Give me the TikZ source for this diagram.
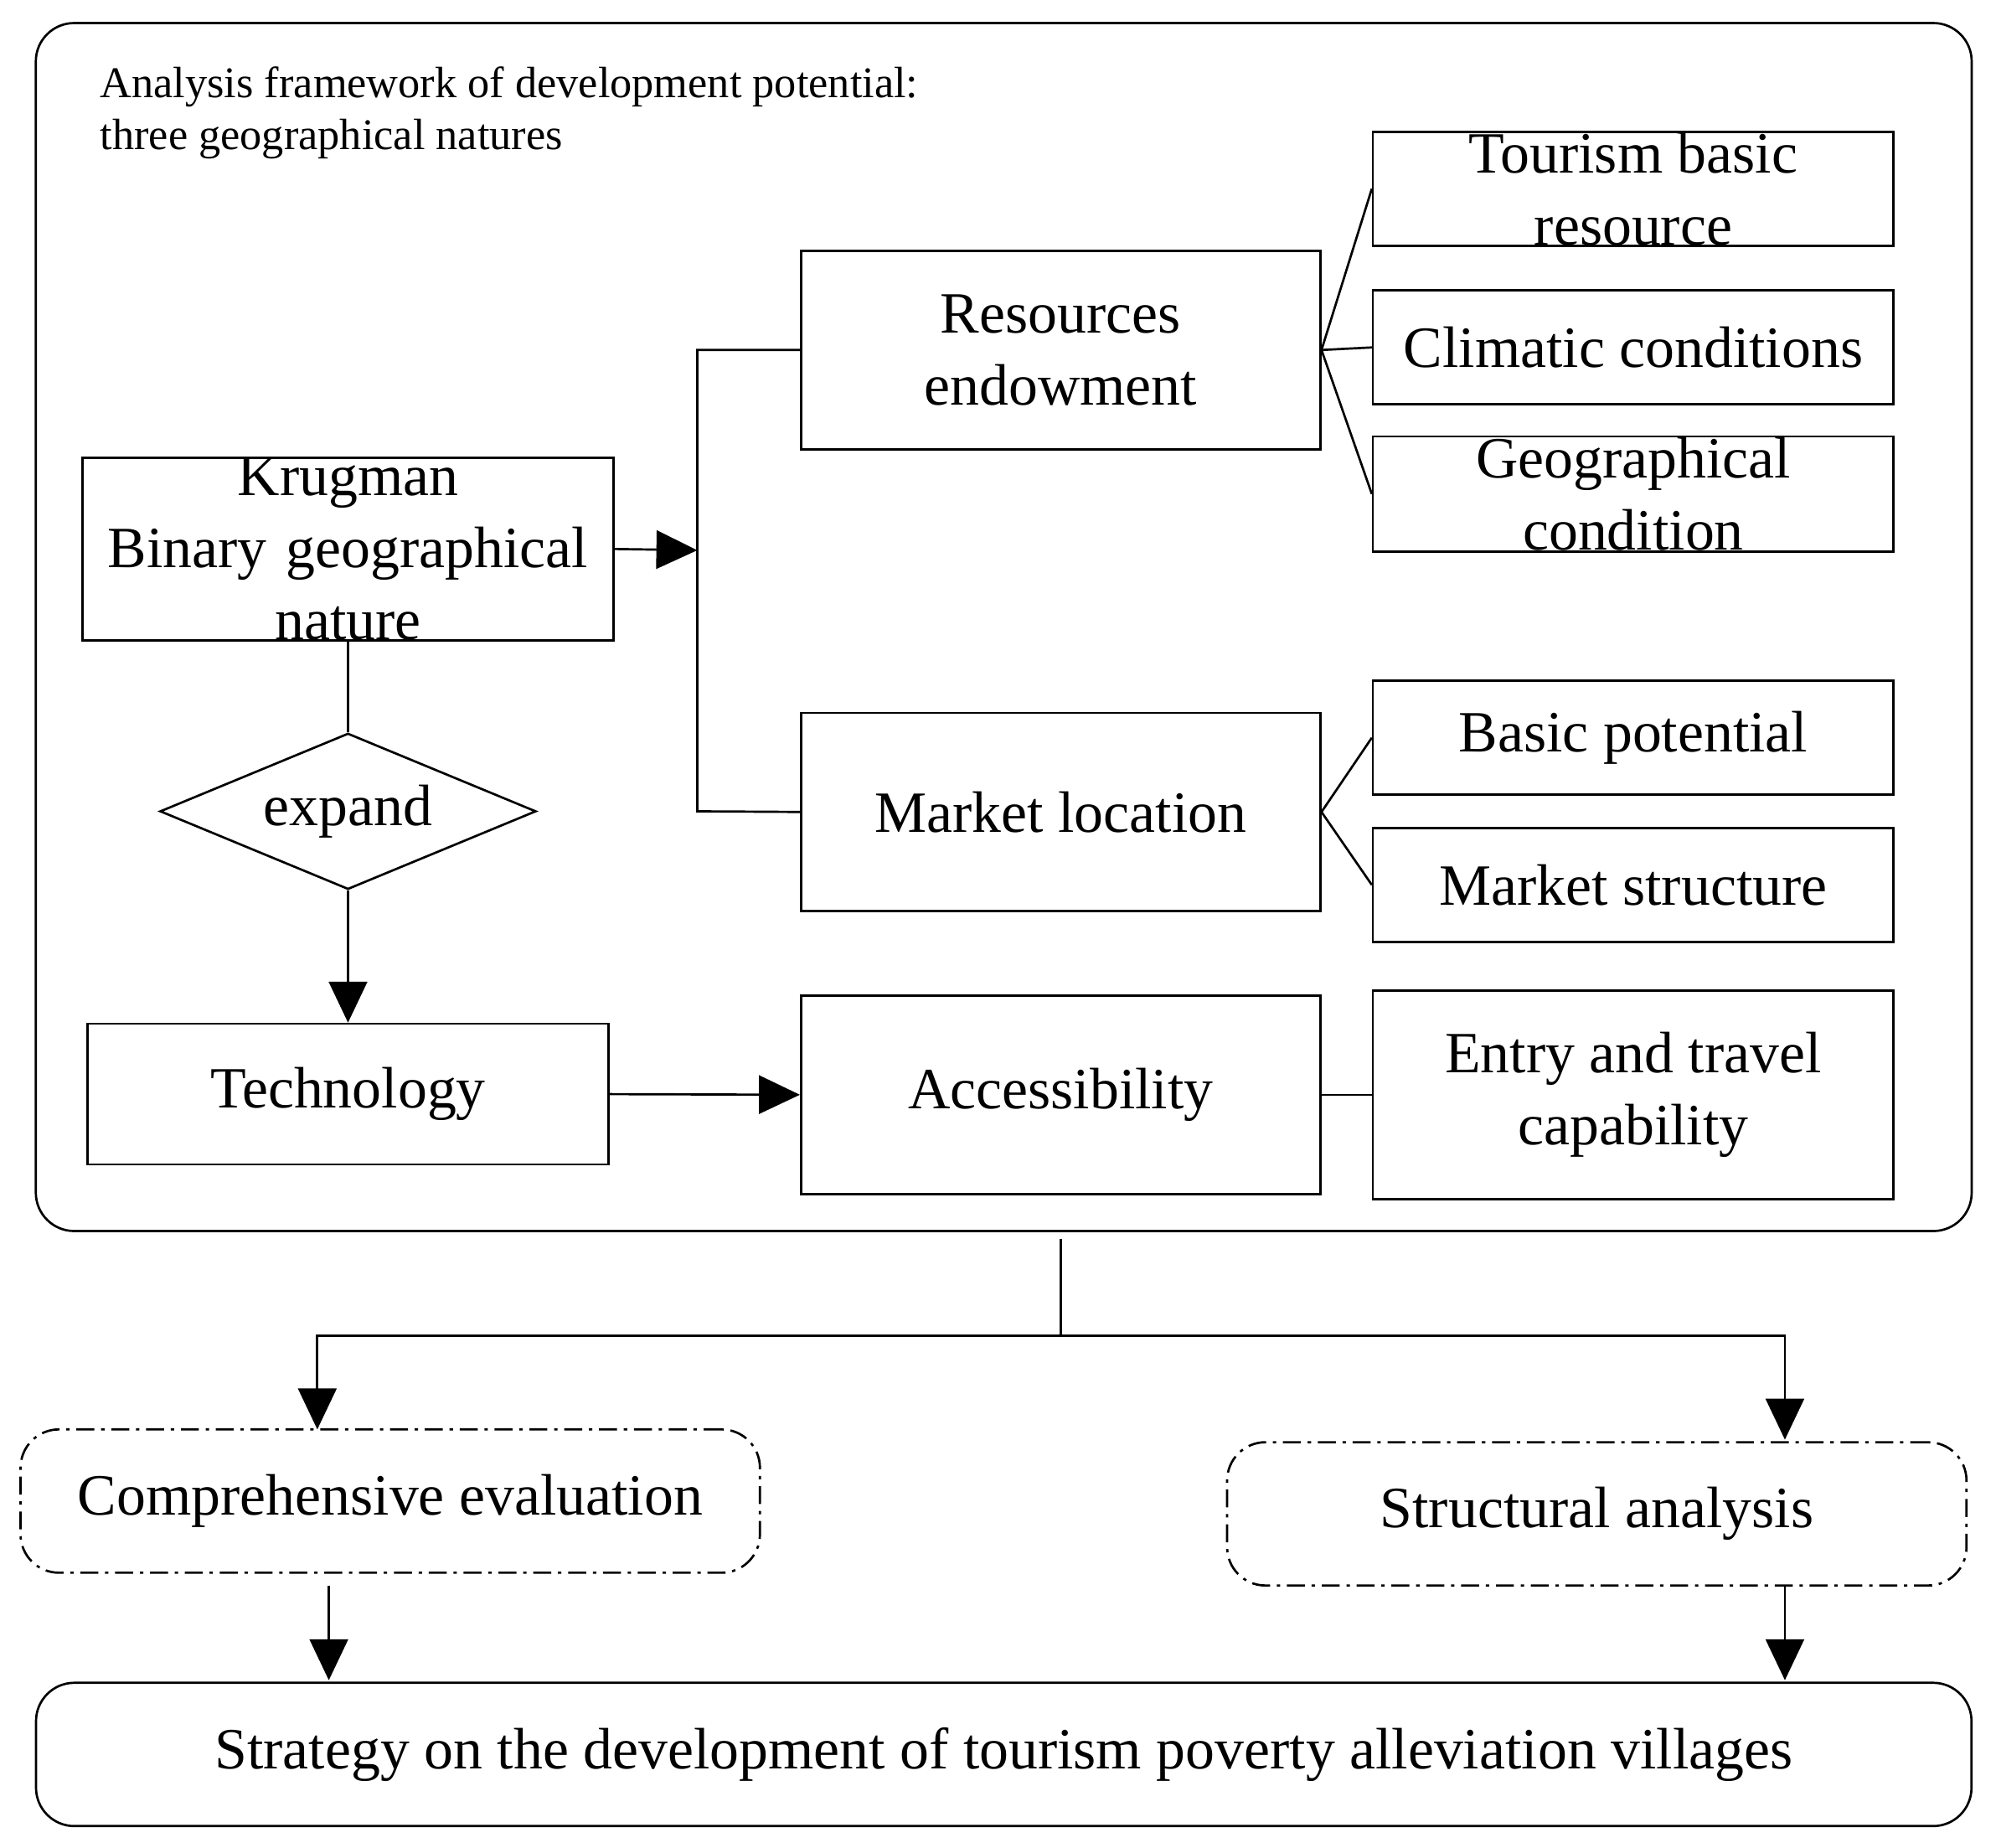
\documentclass[tikz,border=0pt]{standalone}
\usepackage{fontspec}
\setmainfont{Liberation Serif}
\usetikzlibrary{arrows.meta,shapes.geometric}
\begin{document}
\begin{tikzpicture}[x=0.02cm,y=-0.02cm,
  bx/.style={draw,line width=1pt,inner sep=0pt,align=center,font=\fontsize{26}{31}\selectfont},
  ln/.style={line width=1pt},
  ar/.style={line width=1pt,-{Triangle[length=0.64cm,width=0.6cm]}},
  dd/.style={draw,line width=1pt,dash pattern=on 8pt off 3pt on 1.5pt off 3pt,rounded corners=0.6cm}]
\useasboundingbox (0,0) rectangle (1560,1444);
\draw[line width=1pt,rounded corners=0.6cm] (28,18) rectangle (1541,962);
\node[anchor=north west,align=left,font=\fontsize{19.5}{23}\selectfont,inner sep=0pt] (title) at (78,52) {Analysis framework of development potential:\\three geographical natures};
\node[bx,minimum width=8.15cm,minimum height=2.76cm,text width=8.3cm,font=\fontsize{26}{32}\selectfont] (kr) at (272,429) {Krugman\\Binary geographical\\nature};
\node[bx,minimum width=8.12cm,minimum height=3.1cm,font=\fontsize{26}{32}\selectfont] (res) at (829,273.5) {Resources\\endowment};
\node[bx,minimum width=8.12cm,minimum height=3.1cm] (mkt) at (829,634.5) {Market location};
\node[bx,minimum width=8.12cm,minimum height=3.1cm] (acc) at (829,855.5) {Accessibility};
\node[bx,minimum width=8.15cm,minimum height=2.2cm] (tech) at (272,855) {Technology};
\node[draw,line width=1pt,diamond,aspect=2.4,minimum width=5.88cm,minimum height=2.44cm,inner sep=0pt,font=\fontsize{26}{31}\selectfont] (exp) at (272,634) {expand};
\node[bx,minimum width=8.14cm,minimum height=1.78cm,font=\fontsize{26}{32}\selectfont] (tour) at (1276.5,147.5) {Tourism basic\\resource};
\node[bx,minimum width=8.14cm,minimum height=1.78cm] (clim) at (1276.5,271.5) {Climatic conditions};
\node[bx,minimum width=8.14cm,minimum height=1.8cm,font=\fontsize{26}{32}\selectfont] (geo) at (1276.5,386) {Geographical\\condition};
\node[bx,minimum width=8.14cm,minimum height=1.78cm] (basic) at (1276.5,576.5) {Basic potential};
\node[bx,minimum width=8.14cm,minimum height=1.78cm] (ms) at (1276.5,691.5) {Market structure};
\node[bx,minimum width=8.14cm,minimum height=3.26cm,font=\fontsize{26}{32}\selectfont] (entry) at (1276.5,855.5) {Entry and travel\\capability};
\coordinate (j) at (545,430);
\draw[ar] (kr.east) -- (j);
\draw[ln] (res.west) -| (545,634) -- (mkt.west);
\foreach \t in {tour,clim,geo}{\draw[ln] (res.east) -- (\t.west);}
\foreach \t in {basic,ms}{\draw[ln] (mkt.east) -- (\t.west);}
\draw[ln] (acc.east) -- (entry.west);
\draw[ln] (kr.south) -- (exp.north);
\draw[ar] (exp.south) -- (tech.north);
\draw[ar] (tech.east) -- (acc.west);
\node[dd,minimum width=11.56cm,minimum height=2.24cm,inner sep=0pt,font=\fontsize{26}{31}\selectfont] (comp) at (305,1173) {Comprehensive evaluation};
\node[dd,minimum width=11.56cm,minimum height=2.24cm,inner sep=0pt,font=\fontsize{26}{31}\selectfont] (str) at (1248,1183) {Structural analysis};
\node[draw,line width=1pt,rounded corners=0.6cm,minimum width=30.26cm,minimum height=2.24cm,inner sep=0pt,font=\fontsize{26}{31}\selectfont] (strat) at (784.5,1371) {Strategy on the development of tourism poverty alleviation villages};
\coordinate (t) at (829,968);
\coordinate (m) at (829,1044);
\draw[ln] (t) -- (m);
\draw[ar] (m) -| (248,1117);
\draw[ar] (m) -| (1395,1125);
\draw[ar] (257,1239) -- (257,1313);
\draw[ar] (1395,1239) -- (1395,1313);
\end{tikzpicture}
\end{document}
